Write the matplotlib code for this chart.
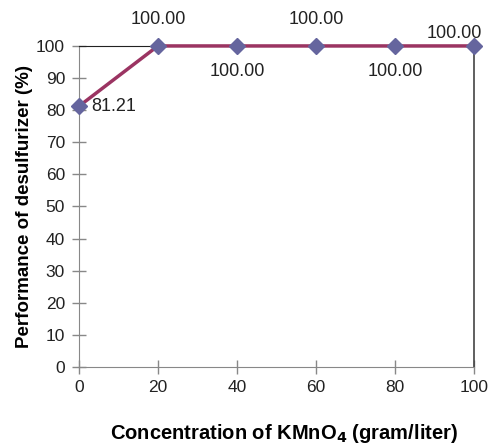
import matplotlib
matplotlib.use("Agg")
import matplotlib.pyplot as plt

conc = [0, 20, 40, 60, 80, 100]
perf = [81.21, 100.00, 100.00, 100.00, 100.00, 100.00]
xticks = [0, 20, 40, 60, 80, 100]
yticks = list(range(0, 101, 10))

plt.rcParams['font.family'] = ['Liberation Sans', 'DejaVu Sans']

fig = plt.figure(figsize=(4.9, 4.46), dpi=100)
ax = fig.add_axes([0.161, 0.177, 0.806, 0.72])

ax.plot(conc, perf, color='#9B3462', lw=2.5, marker='D', markersize=8,
        markerfacecolor='#65659E', markeredgecolor='#65659E', zorder=3, clip_on=False)

ax.set_xlim(0, 100)
ax.set_ylim(0, 100)
ax.set_xticks(xticks)
ax.set_yticks(yticks)
ax.tick_params(direction='inout', length=10, width=1, color='#888888', labelsize=12.5,
               labelcolor='#222222')
ax.tick_params(axis='x', pad=4)
ax.tick_params(axis='y', pad=5)
for s in ['left', 'bottom']:
    ax.spines[s].set_color('#888888')
ax.spines['top'].set_color('#222222')
ax.spines['right'].set_color('#444444')
ax.spines['right'].set_linewidth(1.2)

offsets = {0: (9, 0, 'left', 'center'), 1: (0, 13, 'center', 'bottom'),
           2: (0, -12, 'center', 'top'), 3: (0, 13, 'center', 'bottom'),
           4: (0, -12, 'center', 'top'), 5: (-14, 3, 'center', 'bottom')}
for i, (x, y) in enumerate(zip(conc, perf)):
    dx, dy, ha, va = offsets[i]
    ax.annotate(f"{y:.2f}", (x, y), xytext=(dx, dy), textcoords='offset points',
                ha=ha, va=va, fontsize=13, color='#222222', annotation_clip=False)

ax.set_ylabel('Performance of desulfurizer (%)', fontsize=13.5, fontweight='bold', labelpad=2)
fig.text(0.58, 0.002, r'Concentration of KMnO$_\mathbf{4}$ (gram/liter)', ha='center', va='bottom',
         fontsize=14.5, fontweight='bold')

fig.savefig('out.png', dpi=100)
